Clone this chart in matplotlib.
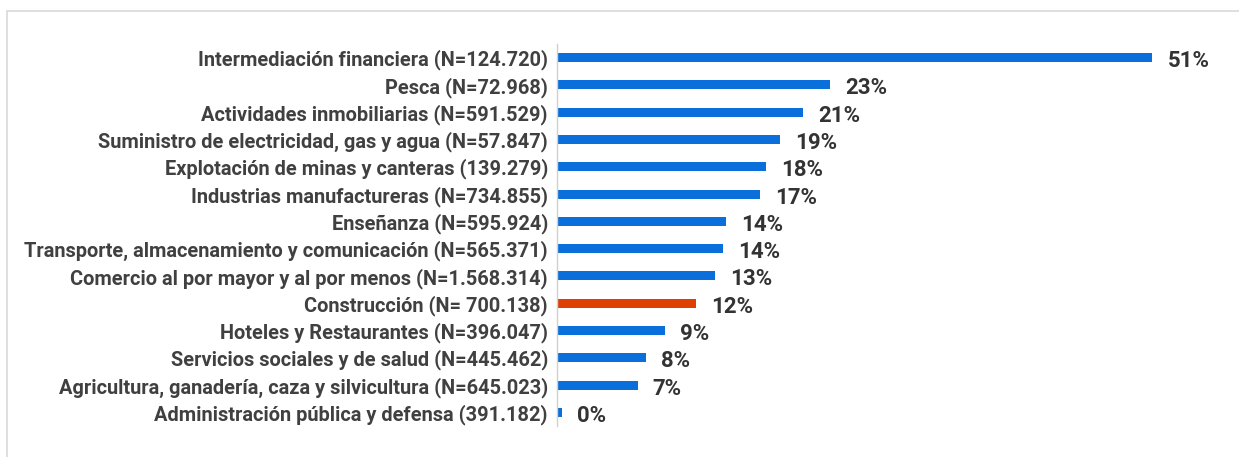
import matplotlib.pyplot as plt
from matplotlib.patches import Rectangle

plt.rcParams['font.family'] = ['Roboto', 'DejaVu Sans']

sectors = [
    "Intermediación financiera (N=124.720)",
    "Pesca (N=72.968)",
    "Actividades inmobiliarias (N=591.529)",
    "Suministro de electricidad, gas y agua (N=57.847)",
    "Explotación de minas y canteras (139.279)",
    "Industrias manufactureras (N=734.855)",
    "Enseñanza (N=595.924)",
    "Transporte, almacenamiento y comunicación (N=565.371)",
    "Comercio al por mayor y al por menos (N=1.568.314)",
    "Construcción (N= 700.138)",
    "Hoteles y Restaurantes (N=396.047)",
    "Servicios sociales y de salud (N=445.462)",
    "Agricultura, ganadería, caza y silvicultura (N=645.023)",
    "Administración pública y defensa (391.182)",
]
shares = [51.0, 23.4, 21.1, 19.1, 17.9, 17.4, 14.5, 14.2, 13.5, 11.9, 9.25, 7.6, 6.9, 0.4]
share_labels = ["51%", "23%", "21%", "19%", "18%", "17%", "14%", "14%", "13%",
                "12%", "9%", "8%", "7%", "0%"]
highlight = "Construcción (N= 700.138)"

blue = "#0a6fdb"
orange = "#e03f04"
colors = [orange if s == highlight else blue for s in sectors]

W, H = 1239, 457
fig = plt.figure(figsize=(W / 100, H / 100), dpi=100)
ax = fig.add_axes([557 / W, 1 - 426 / H, 673 / W, 382 / H])

y = list(range(len(sectors)))
ax.barh(y, shares, height=0.33, color=colors)
ax.set_ylim(len(sectors) - 0.5, -0.5)
ax.set_xlim(0, 673 / 11.67)

ax.set_yticks(y)
ax.set_yticklabels(sectors, fontsize=14.4, fontweight='bold', color='#404040')
ax.tick_params(axis='y', length=0, pad=6.5)
ax.set_xticks([])
for side in ['top', 'right', 'bottom']:
    ax.spines[side].set_visible(False)
ax.spines['left'].set_color('#d0d0d0')
ax.spines['left'].set_linewidth(1)

for yi, v, lab in zip(y, shares, share_labels):
    ax.annotate(lab, (v, yi), xytext=(11, -2.5), textcoords='offset points',
                ha='left', va='center', fontsize=16, fontweight='bold', color='#333333')

fig.patches.append(Rectangle((7 / W, -0.1), 1.2, 1 - 11 / H + 0.1, transform=fig.transFigure,
                             fill=False, edgecolor='#d9d9d9', linewidth=1.2))

fig.savefig("out.png", dpi=100)
